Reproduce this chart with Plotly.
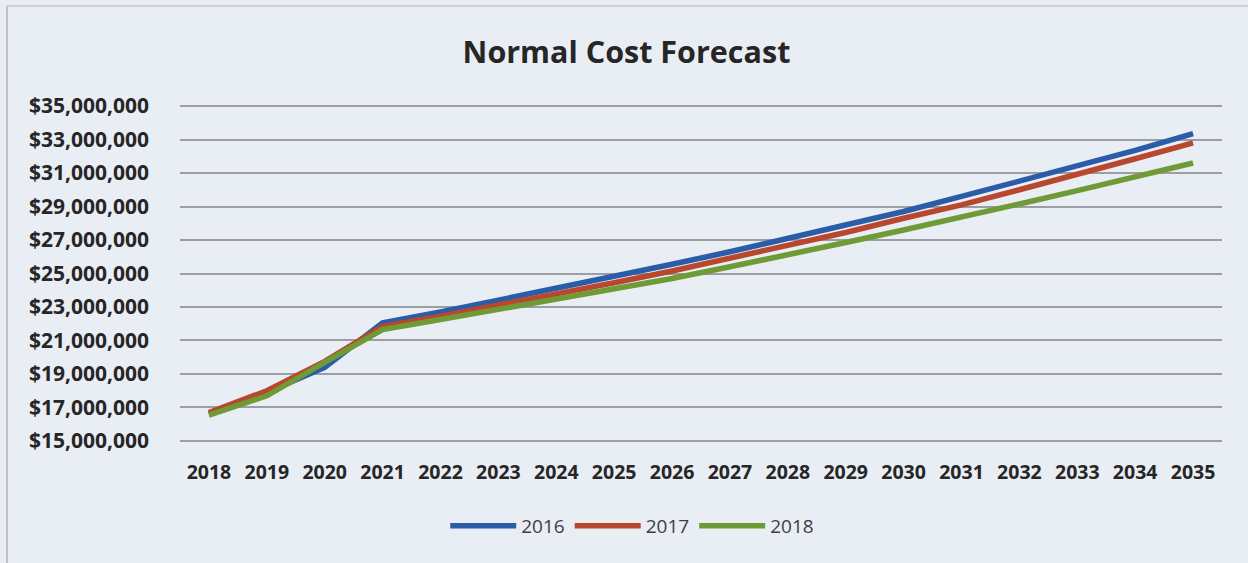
import plotly.graph_objects as go

years = [str(y) for y in range(2018, 2036)]
s2016 = [16.6, 17.9, 19.4, 22.05, 22.7, 23.4, 24.1, 24.8, 25.55, 26.3, 27.1, 27.9, 28.7, 29.6, 30.5, 31.4, 32.35, 33.35]
s2017 = [16.7, 18.0, 19.75, 21.85, 22.45, 23.1, 23.75, 24.45, 25.15, 25.9, 26.65, 27.45, 28.3, 29.1, 30.0, 30.9, 31.85, 32.8]
s2018 = [16.55, 17.7, 19.7, 21.65, 22.25, 22.85, 23.45, 24.05, 24.7, 25.4, 26.1, 26.85, 27.6, 28.35, 29.15, 29.95, 30.75, 31.6]
series_names = ["2016", "2017", "2018"]
colors = ["#2b5ca8", "#b8472e", "#6f9b36"]
yticks = list(range(15, 36, 2))

fig = go.Figure()
for name, vals, c in zip(series_names, [s2016, s2017, s2018], colors):
    fig.add_trace(go.Scatter(
        x=years, y=[v * 1e6 for v in vals], name=name, mode="lines",
        line=dict(color=c, width=5.5, shape="linear"),
    ))

bg = "#e9edf4"
fig.update_layout(
    width=1248, height=563,
    margin=dict(l=180, r=26, t=103, b=119),
    paper_bgcolor=bg, plot_bgcolor=bg,
    font=dict(family="Open Sans", color="#262626"),
    title=dict(text="<b>Normal Cost Forecast</b>", x=0.502, xanchor="center",
               y=1 - 52 / 563, yanchor="middle", yref="container",
               font=dict(size=30.5, color="#262626")),
    showlegend=True,
    legend=dict(orientation="h", x=0.434, xanchor="center", y=-0.24, yanchor="middle",
                font=dict(size=19, color="#404040"), bgcolor="rgba(0,0,0,0)",
                itemwidth=66, tracegroupgap=0),
    xaxis=dict(type="category", range=[-0.5, 17.5], showgrid=False, zeroline=False, showline=False,
               ticks="", ticklabelstandoff=14,
               tickfont=dict(size=19.5, color="#262626", weight="bold")),
    yaxis=dict(range=[14.82e6, 35.18e6], tickvals=[v * 1e6 for v in yticks],
               ticktext=["${:,}".format(v * 1000000) for v in yticks],
               showgrid=True, gridcolor="#9c9ea3", gridwidth=1.5, zeroline=False,
               showline=False, ticks="", ticklabelstandoff=30,
               tickfont=dict(size=21, color="#262626", weight="bold")),
    shapes=[
        dict(type="line", xref="paper", yref="paper", x0=(7 - 180) / 1042, x1=(7 - 180) / 1042,
             y0=(444 - 6) / 341, y1=(444 - 563) / 341, line=dict(color="#b0b3b8", width=1.5)),
        dict(type="line", xref="paper", yref="paper", x0=(7 - 180) / 1042, x1=(1248 - 180) / 1042,
             y0=(444 - 6) / 341, y1=(444 - 6) / 341, line=dict(color="#c4c7cc", width=1.5)),
    ],
)
fig.write_html("out.html")
